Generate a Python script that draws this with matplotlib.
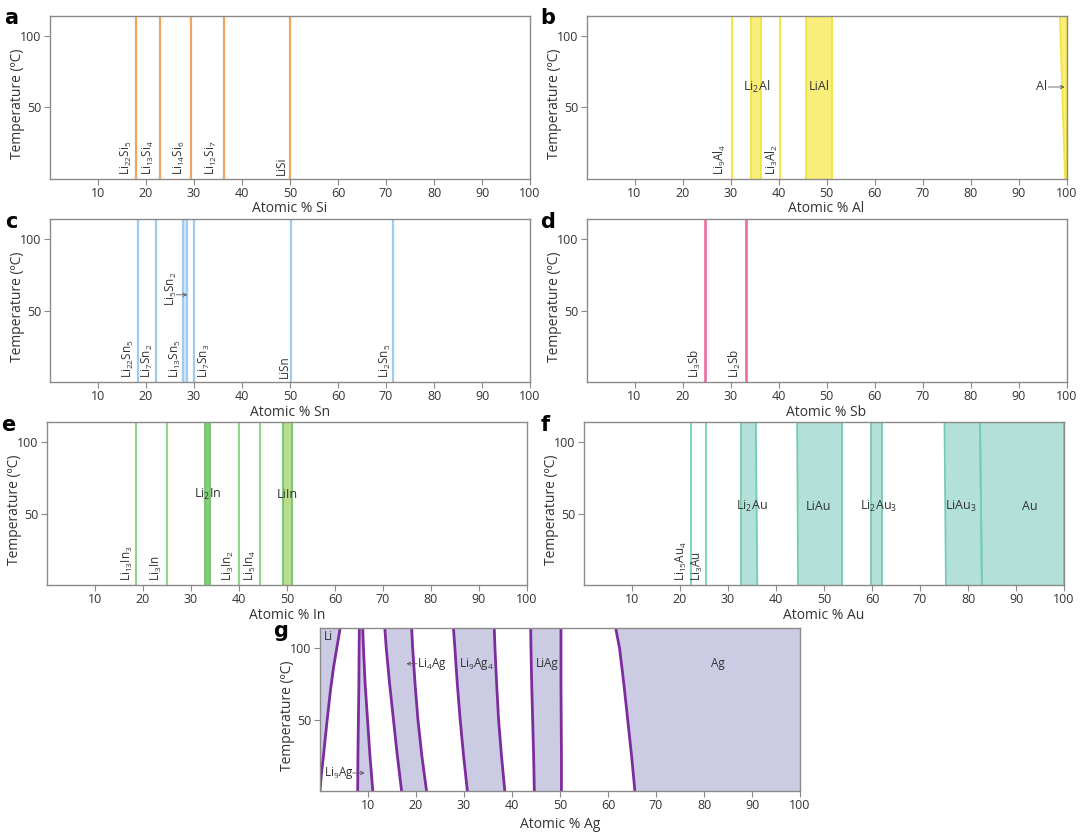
import matplotlib.pyplot as plt
import numpy as np

plt.rcParams['font.family'] = ['Open Sans', 'DejaVu Sans']
plt.rcParams['mathtext.default'] = 'regular'

T_LIM = [0, 114]

# ---- a: Li-Si (line compounds)
si_x = [18.0, 22.9, 29.4, 36.2, 50.0]
si_names = ['Li$_{22}$Si$_5$', 'Li$_{13}$Si$_4$', 'Li$_{14}$Si$_6$', 'Li$_{12}$Si$_7$', 'LiSi']
si_text_x = [15.9, 20.6, 27.0, 33.6, 48.3]

# ---- b: Li-Al
al_x = [30.4, 40.3]
al_names = ['Li$_9$Al$_4$', 'Li$_3$Al$_2$']
al_text_x = [27.8, 38.6]
# bands: left edge (bottom, top), right edge (bottom, top)
al_band_left = [(34.2, 34.2), (45.7, 45.7), (99.7, 98.6)]
al_band_right = [(36.3, 36.3), (51.1, 51.1), (100, 100)]
al_band_names = ['Li$_2$Al', 'LiAl']
al_band_text_x = [35.5, 48.4]

# ---- c: Li-Sn
sn_x = [18.4, 22.1, 30.1, 50.3, 71.5]
sn_names = ['Li$_{22}$Sn$_5$', 'Li$_7$Sn$_2$', 'Li$_7$Sn$_3$', 'LiSn', 'Li$_2$Sn$_5$']
sn_text_x = [16.3, 20.3, 32.1, 48.9, 69.9]
sn_pair = (27.8, 28.6)
sn_pair_names = ['Li$_{13}$Sn$_5$', 'Li$_5$Sn$_2$']

# ---- d: Li-Sb
sb_x = [24.7, 33.2]
sb_names = ['Li$_3$Sb', 'Li$_2$Sb']
sb_text_x = [22.6, 30.9]

# ---- e: Li-In
in_x = [18.6, 25.0, 40.0, 44.4]
in_names = ['Li$_{13}$In$_3$', 'Li$_3$In', 'Li$_3$In$_2$', 'Li$_5$In$_4$']
in_text_x = [16.7, 22.9, 37.8, 42.3]
in_band_left = [(32.9, 32.9), (49.1, 49.1)]
in_band_right = [(33.9, 33.9), (51.1, 51.1)]
in_band_names = ['Li$_2$In', 'LiIn']
in_band_text_x = [33.5, 50.0]

# ---- f: Li-Au
au_x = [22.2, 25.5]
au_names = ['Li$_{15}$Au$_4$', 'Li$_3$Au']
au_text_x = [20.2, 23.7]
au_band_left = [(32.7, 32.7), (44.6, 44.4), (59.75, 59.75), (75.4, 75.1), (82.9, 82.5)]
au_band_right = [(36.1, 35.8), (53.7, 53.7), (62.1, 62.1), (82.9, 82.5), (100, 100)]
au_band_names = ['Li$_2$Au', 'LiAu', 'Li$_2$Au$_3$', 'LiAu$_3$', 'Au']
au_band_text_x = [35.0, 48.9, 61.3, 78.6, 92.8]

# ---- g: Li-Ag (phase boundaries, x read at these temperatures)
ag_T = [0, 25, 50, 75, 100, 114]
ag_li_T = [0, 12, 24, 37, 50, 71, 86, 100, 114]
ag_li_x = [0.0, 0.3, 0.7, 1.1, 1.5, 2.2, 2.8, 3.5, 4.2]
ag_bounds = [
    [7.85, 7.9, 8.0, 8.1, 8.15, 8.2],        # Li9Ag left
    [11.0, 10.4, 9.9, 9.4, 9.05, 8.9],       # Li9Ag right
    [17.0, 16.1, 15.3, 14.5, 13.8, 13.5],    # Li4Ag left
    [22.2, 21.2, 20.4, 19.8, 19.3, 19.1],    # Li4Ag right
    [30.7, 29.9, 29.2, 28.6, 28.1, 27.8],    # Li9Ag4 left
    [38.5, 37.8, 37.2, 36.8, 36.45, 36.3],   # Li9Ag4 right
    [44.65, 44.5, 44.3, 44.1, 43.95, 43.9],  # LiAg left
    [50.3, 50.3, 50.25, 50.2, 50.2, 50.2],   # LiAg right
    [65.6, 64.9, 64.1, 63.3, 62.4, 61.6],    # Ag left
]

fig = plt.figure(figsize=(10.8, 8.33), dpi=100)
W, H = 1080, 833


def make_ax(left, top, width=480, height=163, letter='a', element='Si', pad=1):
    ax = fig.add_axes([left / W, 1 - (top + height) / H, width / W, height / H])
    ax.set_xlim(0, 100)
    ax.set_ylim(*T_LIM)
    ax.set_xticks(range(10, 101, 10))
    ax.set_yticks([50, 100])
    for s in ax.spines.values():
        s.set_color('#8a8a8a')
        s.set_linewidth(1.0)
    ax.tick_params(direction='out', length=4, width=0.8, color='#8a8a8a',
                   labelsize=9, labelcolor='#333333', pad=2)
    ax.set_xlabel('Atomic % ' + element, fontsize=10, color='#333333', labelpad=pad)
    ax.set_ylabel('Temperature (ºC)', fontsize=10, color='#333333')
    ax.yaxis.set_label_coords(-0.052, 0.46)
    fig.text((left - 39) / W, 1 - (top + 3) / H, letter, fontsize=15,
             fontweight='bold', ha='center', va='center', family='DejaVu Sans')
    return ax


def vlines(ax, xs, color, lw=1.6):
    for x in xs:
        ax.plot([x, x], T_LIM, color=color, lw=lw, solid_capstyle='butt')


def vlabels(ax, xs, names, y=2.5):
    for x, n in zip(xs, names):
        ax.text(x, y, n, rotation=90, ha='center', va='bottom', fontsize=8.5, color='#333333')


def bands(ax, lefts, rights, fill, edge, lw=1.3):
    for (lb, lt), (rb, rt) in zip(lefts, rights):
        ax.fill_betweenx(T_LIM, [lb, lt], [rb, rt], color=fill, lw=0)
        ax.plot([lb, lt], T_LIM, color=edge, lw=lw)
        ax.plot([rb, rt], T_LIM, color=edge, lw=lw)


arrow = dict(arrowstyle='->', color='#555555', lw=0.6, shrinkA=0, shrinkB=0,
             mutation_scale=6)

# a
ax = make_ax(50, 15.5, letter='a', element='Si')
vlines(ax, si_x, '#F2A45E')
vlabels(ax, si_text_x, si_names)

# b
ax = make_ax(586.5, 15.5, letter='b', element='Al')
bands(ax, al_band_left, al_band_right, '#F9EE7A', '#F3E440')
vlines(ax, al_x, '#F6E84C')
vlabels(ax, al_text_x, al_names)
for x, n in zip(al_band_text_x, al_band_names):
    ax.text(x, 64, n, ha='center', va='center', fontsize=9, color='#333333')
ax.annotate('', xy=(99.6, 64), xytext=(96.2, 64), arrowprops=arrow)
ax.text(95.9, 64, 'Al', ha='right', va='center', fontsize=9, color='#333333')

# c
ax = make_ax(50, 219, letter='c', element='Sn')
ax.fill_betweenx(T_LIM, sn_pair[0], sn_pair[1], color='#D6E9F8', lw=0)
vlines(ax, list(sn_pair) + sn_x, '#9ECBEE')
vlabels(ax, sn_text_x + [26.1], sn_names + [sn_pair_names[0]])
ax.text(25.3, 53, sn_pair_names[1], rotation=90, ha='center', va='bottom',
        fontsize=8.5, color='#333333')
ax.annotate('', xy=(28.6, 61), xytext=(26.3, 61), arrowprops=arrow)

# d
ax = make_ax(586.5, 219, letter='d', element='Sb')
vlines(ax, sb_x, '#F06AA2', lw=1.9)
vlabels(ax, sb_text_x, sb_names)

# e
ax = make_ax(47, 422, letter='e', element='In')
ax.fill_betweenx(T_LIM, in_band_left[0][0], in_band_right[0][0], color='#86CC7C', lw=0)
ax.fill_betweenx(T_LIM, in_band_left[1][0], in_band_right[1][0], color='#B8DD8B', lw=0)
vlines(ax, in_x, '#8FD68D', lw=1.5)
vlines(ax, [b[0] for b in in_band_left] + [b[0] for b in in_band_right], '#74C46C', lw=1.3)
vlabels(ax, in_text_x, in_names)
for x, n in zip(in_band_text_x, in_band_names):
    ax.text(x, 63, n, ha='center', va='center', fontsize=9, color='#333333')

# f
ax = make_ax(584, 422, letter='f', element='Au')
bands(ax, au_band_left, au_band_right, '#B3E0D9', '#73CCB4')
vlines(ax, au_x, '#80D6C0', lw=1.5)
vlabels(ax, au_text_x, au_names)
for x, n in zip(au_band_text_x, au_band_names):
    ax.text(x, 55, n, ha='center', va='center', fontsize=9, color='#333333')

# g
ax = make_ax(320, 628, letter='g', element='Ag', pad=3)
fill_c, edge_c = '#CBCBE3', '#7E2C9D'
ax.fill_betweenx(ag_li_T, 0, ag_li_x, color=fill_c, lw=0)
for i in range(0, 8, 2):
    ax.fill_betweenx(ag_T, ag_bounds[i], ag_bounds[i + 1], color=fill_c, lw=0)
ax.fill_betweenx(ag_T, ag_bounds[8], 100, color=fill_c, lw=0)
ax.plot(ag_li_x, ag_li_T, color=edge_c, lw=2)
for b in ag_bounds:
    ax.plot(b, ag_T, color=edge_c, lw=2)
gfs = 8.5
ax.text(0.8, 108, 'Li', ha='left', va='center', fontsize=gfs, color='#333333')
ax.text(20.3, 89, 'Li$_4$Ag', ha='left', va='center', fontsize=gfs, color='#333333')
ax.annotate('', xy=(18.0, 89), xytext=(20.2, 89), arrowprops=arrow)
ax.text(29.0, 89, 'Li$_9$Ag$_4$', ha='left', va='center', fontsize=gfs, color='#333333')
ax.text(47.4, 89, 'LiAg', ha='center', va='center', fontsize=gfs, color='#333333')
ax.text(82.8, 89, 'Ag', ha='center', va='center', fontsize=gfs, color='#333333')
ax.text(0.8, 12.6, 'Li$_9$Ag', ha='left', va='center', fontsize=gfs, color='#333333')
ax.annotate('', xy=(9.3, 12.6), xytext=(6.8, 12.6), arrowprops=arrow)

fig.savefig('out.png', dpi=100)
